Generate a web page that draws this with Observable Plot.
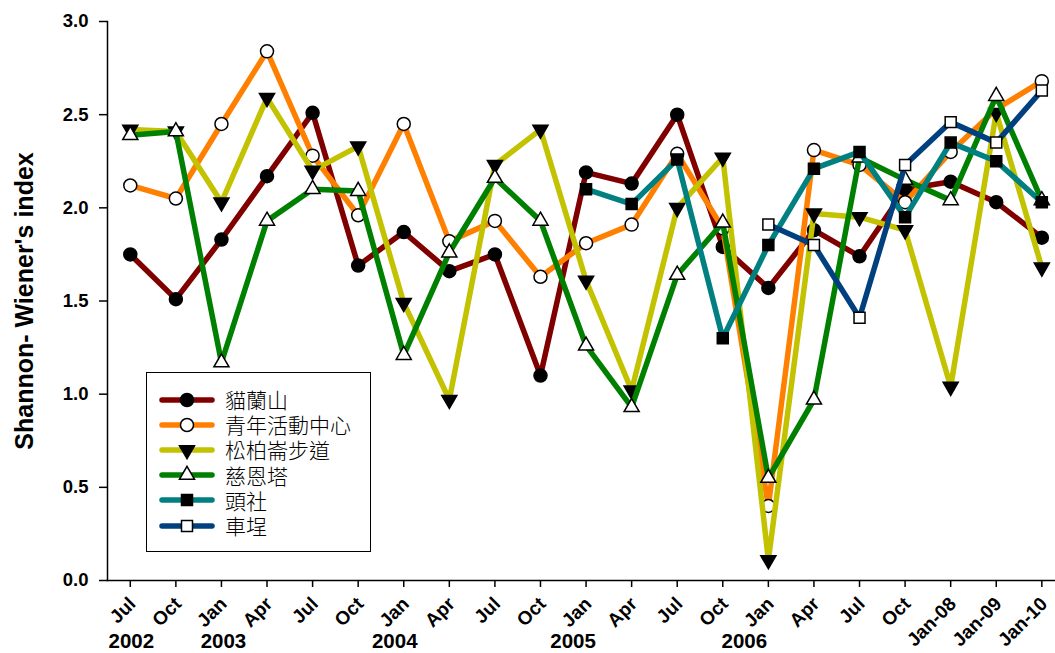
<!DOCTYPE html>
<html><head><meta charset="utf-8">
<script src="https://cdn.jsdelivr.net/npm/d3@7"></script>
<script src="https://cdn.jsdelivr.net/npm/@observablehq/plot@0.6"></script>
<style>
body{margin:0;background:#fff;}
#wrap{position:relative;width:1055px;height:653px;}
#legend{position:absolute;left:146px;top:372px;width:225px;height:180px;border:1px solid #000;background:#fff;box-sizing:border-box;padding-top:14px;}
.row{height:25.2px;display:flex;align-items:center;white-space:nowrap;}
.row svg{flex:none;margin-left:12px;}
.row span{display:inline-block;height:25px;line-height:25px;overflow:visible;margin-left:10px;font-family:'Noto Sans CJK TC','Noto Sans CJK SC',sans-serif;font-size:21px;font-weight:300;color:#000;}
</style>
</head><body><div id="wrap"></div>
<script>
const periods = ["Jul","Oct","Jan","Apr","Jul","Oct","Jan","Apr","Jul","Oct","Jan","Apr","Jul","Oct","Jan","Apr","Jul","Oct","Jan-08","Jan-09","Jan-10"];
const yearLabels = ["2002","2003","2004","2005","2006"];
const yearAt = [0, 2, 6, 10, 14];
const yTicks = [0, 0.5, 1.0, 1.5, 2.0, 2.5, 3.0];

const seriesNames = ["貓蘭山","青年活動中心","松柏崙步道","慈恩塔","頭社","車埕"];
const maolanshan = [1.75,1.51,1.83,2.17,2.51,1.69,1.87,1.66,1.75,1.10,2.19,2.13,2.50,1.79,1.57,1.88,1.74,2.10,2.14,2.03,1.84];
const youthCenter = [2.12,2.05,2.45,2.84,2.28,1.96,2.45,1.82,1.93,1.63,1.81,1.91,2.29,1.89,0.40,2.31,2.23,2.03,2.30,2.53,2.68];
const songbolun = [2.42,2.41,2.03,2.59,2.20,2.33,1.49,0.97,2.23,2.42,1.61,1.02,2.00,2.27,0.11,1.97,1.95,1.88,1.04,2.51,1.68];
const cienta = [2.39,2.41,1.17,1.93,2.10,2.09,1.21,1.76,2.16,1.93,1.26,0.93,1.64,1.92,0.55,0.97,2.27,2.15,2.04,2.60,2.04];
const toushe = [null,null,null,null,null,null,null,null,null,null,2.10,2.02,2.26,1.30,1.80,2.21,2.30,1.95,2.35,2.25,2.03];
const checheng = [null,null,null,null,null,null,null,null,null,null,null,null,null,null,1.91,1.80,1.41,2.23,2.46,2.35,2.63];

const seriesValues = [maolanshan, youthCenter, songbolun, cienta, toushe, checheng];
const colors = ["#800000","#ff8000","#c2c200","#008000","#008080","#00407f"];
const styles = [
  {symbol:"circle", fill:"#000", r:6.5, rotate:0},
  {symbol:"circle", fill:"#fff", r:6.5, rotate:0},
  {symbol:"triangle", fill:"#000", r:5.6, rotate:180},
  {symbol:"triangle", fill:"#fff", r:5.6, rotate:0},
  {symbol:"square", fill:"#000", r:6.2, rotate:0},
  {symbol:"square", fill:"#fff", r:6.2, rotate:0}
];

const marks = [
  Plot.frame({anchor:"left", stroke:"#000", strokeWidth:1.5}),
  Plot.frame({anchor:"bottom", stroke:"#000", strokeWidth:1.5}),
  Plot.axisY({ticks:yTicks, tickFormat:d=>d.toFixed(1), tickSize:8, tickPadding:11, label:null, fontSize:18.5, strokeWidth:1.5}),
  Plot.axisX({ticks:d3.range(periods.length), tickSize:7, label:null, text:null, strokeWidth:1.5}),
  Plot.text(d3.range(periods.length), {x:d=>d, text:d=>periods[d], frameAnchor:"bottom", rotate:-45, textAnchor:"end", lineAnchor:"top", dx:-3, dy:15, fontSize:19, fontWeight:"bold"}),
  Plot.text(["Shannon- Wiener's index"], {frameAnchor:"left", text:d=>d, rotate:-90, dx:-83, fontSize:25, fontWeight:"bold", textAnchor:"middle", lineAnchor:"middle"})
];
const yearDx = [1, 2, -9, -13, -24];
yearLabels.forEach((lab, k) => {
  marks.push(Plot.text([lab], {x:()=>yearAt[k], text:d=>d, frameAnchor:"bottom", dy:67, dx:yearDx[k], lineAnchor:"bottom", textAnchor:"middle", fontSize:20.5, fontWeight:"bold"}));
});
seriesValues.forEach((vals, si) => {
  const data = vals.map((v, i) => ({i, v})).filter(d => d.v != null);
  marks.push(Plot.line(data, {x:"i", y:"v", stroke:colors[si], strokeWidth:5.5, strokeLinejoin:"round", strokeLinecap:"round"}));
  const st = styles[si];
  marks.push(Plot.dot(data, {x:"i", y:"v", symbol:st.symbol, r:st.r, fill:st.fill, stroke:"#000", strokeWidth:1.5, rotate:st.rotate}));
});

const chart = Plot.plot({
  width:1055, height:653,
  marginLeft:107, marginRight:0, marginTop:21, marginBottom:73,
  style:{fontFamily:"'Liberation Sans', Arial, sans-serif", fontSize:"18px", fontWeight:"bold", color:"#000", background:"#fff", overflow:"visible"},
  x:{type:"linear", domain:[-0.5, 20.3]},
  y:{domain:[0, 3]},
  marks
});
const wrap = document.getElementById("wrap");
wrap.appendChild(chart);

// legend
const leg = document.createElement("div");
leg.id = "legend";
wrap.appendChild(leg);
const symMap = {circle:d3.symbolCircle, triangle:d3.symbolTriangle, square:d3.symbolSquare};
seriesNames.forEach((name, si) => {
  const row = d3.select(leg).append("div").attr("class", "row");
  const s = row.append("svg").attr("width", 56).attr("height", 20);
  s.append("line").attr("x1", 3).attr("x2", 53).attr("y1", 10).attr("y2", 10)
    .attr("stroke", colors[si]).attr("stroke-width", 5.5).attr("stroke-linecap", "round");
  const st = styles[si];
  s.append("path").attr("d", d3.symbol(symMap[st.symbol], Math.PI * st.r * st.r)())
    .attr("transform", `translate(28,10) rotate(${st.rotate})`)
    .attr("fill", st.fill).attr("stroke", "#000").attr("stroke-width", 1.5);
  row.append("span").text(name);
});
</script>
</body></html>
